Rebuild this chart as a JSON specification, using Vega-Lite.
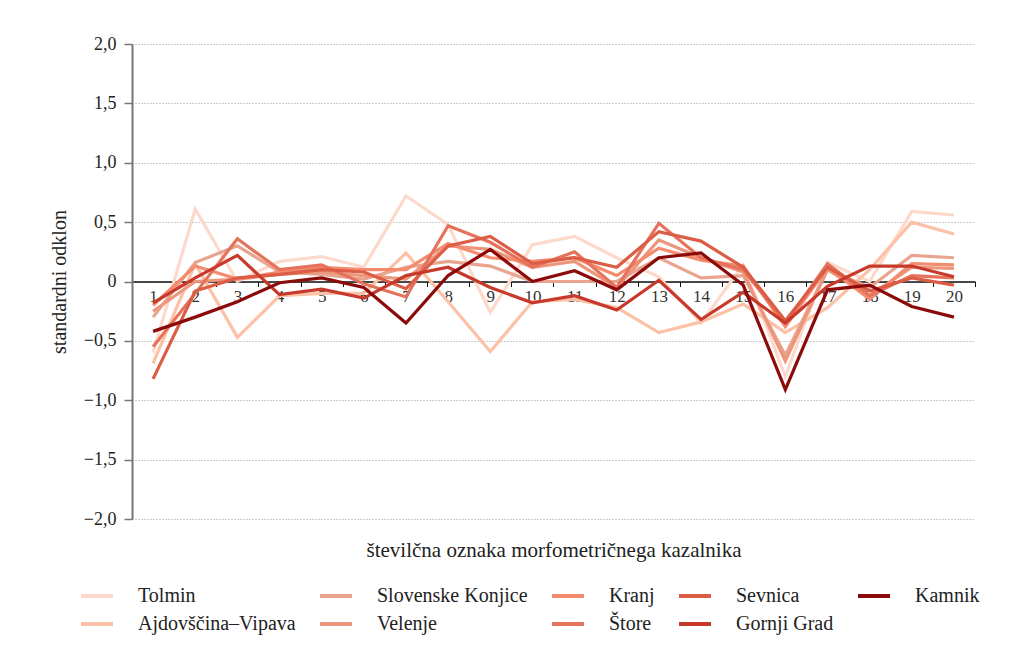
{
  "$schema": "https://vega.github.io/schema/vega-lite/v6.json",
  "width": 843,
  "height": 475,
  "autosize": {"type": "none"},
  "padding": {"left": 132, "top": 44, "right": 44, "bottom": 145},
  "background": "white",
  "config": {"font": "Liberation Serif", "view": {"stroke": null}},
  "data": {"values": [
    {"n": 1, "Tolmin": -0.6, "Ajdovščina–Vipava": -0.69, "Slovenske Konjice": -0.3, "Velenje": -0.25, "Kranj": -0.2, "Štore": -0.55, "Sevnica": -0.82, "Gornji Grad": -0.18, "Kamnik": -0.42},
    {"n": 2, "Tolmin": 0.61, "Ajdovščina–Vipava": 0.15, "Slovenske Konjice": 0.16, "Velenje": 0.0, "Kranj": 0.13, "Štore": -0.1, "Sevnica": -0.08, "Gornji Grad": 0.03, "Kamnik": -0.3},
    {"n": 3, "Tolmin": 0.0, "Ajdovščina–Vipava": -0.47, "Slovenske Konjice": 0.3, "Velenje": 0.02, "Kranj": 0.02, "Štore": 0.36, "Sevnica": 0.03, "Gornji Grad": 0.22, "Kamnik": -0.17},
    {"n": 4, "Tolmin": 0.17, "Ajdovščina–Vipava": -0.12, "Slovenske Konjice": 0.08, "Velenje": 0.06, "Kranj": 0.08, "Štore": 0.1, "Sevnica": 0.06, "Gornji Grad": -0.11, "Kamnik": -0.01},
    {"n": 5, "Tolmin": 0.21, "Ajdovščina–Vipava": -0.1, "Slovenske Konjice": 0.06, "Velenje": 0.08, "Kranj": 0.12, "Štore": 0.14, "Sevnica": 0.1, "Gornji Grad": -0.065, "Kamnik": 0.03},
    {"n": 6, "Tolmin": 0.12, "Ajdovščina–Vipava": -0.1, "Slovenske Konjice": 0.02, "Velenje": 0.05, "Kranj": 0.1, "Štore": -0.02, "Sevnica": 0.08, "Gornji Grad": -0.14, "Kamnik": -0.05},
    {"n": 7, "Tolmin": 0.72, "Ajdovščina–Vipava": 0.24, "Slovenske Konjice": 0.12, "Velenje": 0.02, "Kranj": 0.1, "Štore": -0.13, "Sevnica": -0.06, "Gornji Grad": 0.05, "Kamnik": -0.35},
    {"n": 8, "Tolmin": 0.48, "Ajdovščina–Vipava": -0.17, "Slovenske Konjice": 0.17, "Velenje": 0.3, "Kranj": 0.32, "Štore": 0.47, "Sevnica": 0.3, "Gornji Grad": 0.12, "Kamnik": 0.05},
    {"n": 9, "Tolmin": -0.26, "Ajdovščina–Vipava": -0.59, "Slovenske Konjice": 0.13, "Velenje": 0.27, "Kranj": 0.2, "Štore": 0.33, "Sevnica": 0.38, "Gornji Grad": -0.05, "Kamnik": 0.27},
    {"n": 10, "Tolmin": 0.31, "Ajdovščina–Vipava": -0.17, "Slovenske Konjice": 0.0, "Velenje": 0.12, "Kranj": 0.17, "Štore": 0.12, "Sevnica": 0.15, "Gornji Grad": -0.18, "Kamnik": 0.0},
    {"n": 11, "Tolmin": 0.38, "Ajdovščina–Vipava": -0.15, "Slovenske Konjice": 0.0, "Velenje": 0.17, "Kranj": 0.2, "Štore": 0.25, "Sevnica": 0.2, "Gornji Grad": -0.12, "Kamnik": 0.09},
    {"n": 12, "Tolmin": 0.2, "Ajdovščina–Vipava": -0.22, "Slovenske Konjice": 0.0, "Velenje": -0.05, "Kranj": 0.05, "Štore": -0.05, "Sevnica": 0.12, "Gornji Grad": -0.24, "Kamnik": -0.07},
    {"n": 13, "Tolmin": 0.04, "Ajdovščina–Vipava": -0.43, "Slovenske Konjice": 0.2, "Velenje": 0.35, "Kranj": 0.28, "Štore": 0.49, "Sevnica": 0.42, "Gornji Grad": 0.01, "Kamnik": 0.2},
    {"n": 14, "Tolmin": -0.35, "Ajdovščina–Vipava": -0.34, "Slovenske Konjice": 0.03, "Velenje": 0.2, "Kranj": 0.18, "Štore": 0.2, "Sevnica": 0.34, "Gornji Grad": -0.32, "Kamnik": 0.24},
    {"n": 15, "Tolmin": 0.14, "Ajdovščina–Vipava": -0.19, "Slovenske Konjice": 0.05, "Velenje": 0.08, "Kranj": 0.13, "Štore": 0.1, "Sevnica": 0.12, "Gornji Grad": -0.09, "Kamnik": -0.03},
    {"n": 16, "Tolmin": -0.8, "Ajdovščina–Vipava": -0.43, "Slovenske Konjice": -0.62, "Velenje": -0.67, "Kranj": -0.38, "Štore": -0.35, "Sevnica": -0.33, "Gornji Grad": -0.35, "Kamnik": -0.91},
    {"n": 17, "Tolmin": 0.16, "Ajdovščina–Vipava": -0.22, "Slovenske Konjice": 0.1, "Velenje": 0.1, "Kranj": 0.12, "Štore": 0.15, "Sevnica": 0.12, "Gornji Grad": -0.04, "Kamnik": -0.07},
    {"n": 18, "Tolmin": 0.0, "Ajdovščina–Vipava": 0.1, "Slovenske Konjice": -0.05, "Velenje": -0.12, "Kranj": -0.15, "Štore": -0.12, "Sevnica": -0.08, "Gornji Grad": 0.13, "Kamnik": -0.03},
    {"n": 19, "Tolmin": 0.59, "Ajdovščina–Vipava": 0.5, "Slovenske Konjice": 0.22, "Velenje": 0.12, "Kranj": 0.15, "Štore": 0.05, "Sevnica": 0.03, "Gornji Grad": 0.13, "Kamnik": -0.21},
    {"n": 20, "Tolmin": 0.56, "Ajdovščina–Vipava": 0.4, "Slovenske Konjice": 0.2, "Velenje": 0.11, "Kranj": 0.14, "Štore": 0.03, "Sevnica": -0.03, "Gornji Grad": 0.04, "Kamnik": -0.3}
  ]},
  "transform": [
    {"fold": ["Tolmin", "Ajdovščina–Vipava", "Slovenske Konjice", "Velenje", "Kranj", "Štore", "Sevnica", "Gornji Grad", "Kamnik"], "as": ["s", "y"]}
  ],
  "mark": {"type": "line", "strokeWidth": 3.2, "clip": false},
  "encoding": {
    "x": {
      "field": "n", "type": "ordinal",
      "scale": {"type": "band", "paddingInner": 0, "paddingOuter": 0},
      "bandPosition": 0.5,
      "axis": {
        "orient": "bottom", "offset": -237.5,
        "domainColor": "#111", "domainWidth": 1.5,
        "tickBand": "extent", "tickColor": "#111", "tickSize": 5, "tickWidth": 1,
        "labelAngle": 0, "labelFontSize": 17, "labelColor": "#333", "labelPadding": 2,
        "grid": false,
        "title": "številčna oznaka morfometričnega kazalnika",
        "titleFontSize": 21, "titleFontWeight": "normal", "titleColor": "#222",
        "titleY": 269, "titleBaseline": "middle"
      }
    },
    "y": {
      "field": "y", "type": "quantitative",
      "scale": {"domain": [-2, 2]},
      "axis": {
        "values": [-2, -1.5, -1, -0.5, 0, 0.5, 1, 1.5, 2],
        "labelExpr": "datum.value == 0 ? '0' : replace(format(datum.value, '.1f'), '.', ',')",
        "grid": true, "gridDash": [1, 2], "gridColor": "#999", "gridWidth": 1,
        "domainColor": "#777", "domainWidth": 2,
        "tickColor": "#777", "tickSize": 8, "tickWidth": 1.5,
        "labelFontSize": 18, "labelColor": "#222", "labelPadding": 8,
        "title": "standardni odklon", "titleFontSize": 20, "titleFontWeight": "normal",
        "titleColor": "#222", "titlePadding": 14
      }
    },
    "color": {
      "field": "s", "type": "nominal",
      "scale": {
        "domain": ["Tolmin", "Slovenske Konjice", "Kranj", "Sevnica", "Kamnik", "Ajdovščina–Vipava", "Velenje", "Štore", "Gornji Grad"],
        "range": ["#fdd9cb", "#e8a48e", "#f58b6e", "#dc5d45", "#8b0a0a", "#fcc1a6", "#ec967c", "#e5735b", "#c73a2b"]
      },
      "legend": {
        "orient": "none", "legendX": -53, "legendY": 534,
        "columns": 5, "direction": "horizontal", "padding": 0,
        "symbolType": "stroke", "symbolSize": 1024, "symbolStrokeWidth": 4, "symbolOpacity": 1,
        "labelFontSize": 20, "labelColor": "#222", "labelOffset": 23,
        "columnPadding": 16, "rowPadding": 0, "title": null, "gridAlign": "each"
      }
    }
  }
}
